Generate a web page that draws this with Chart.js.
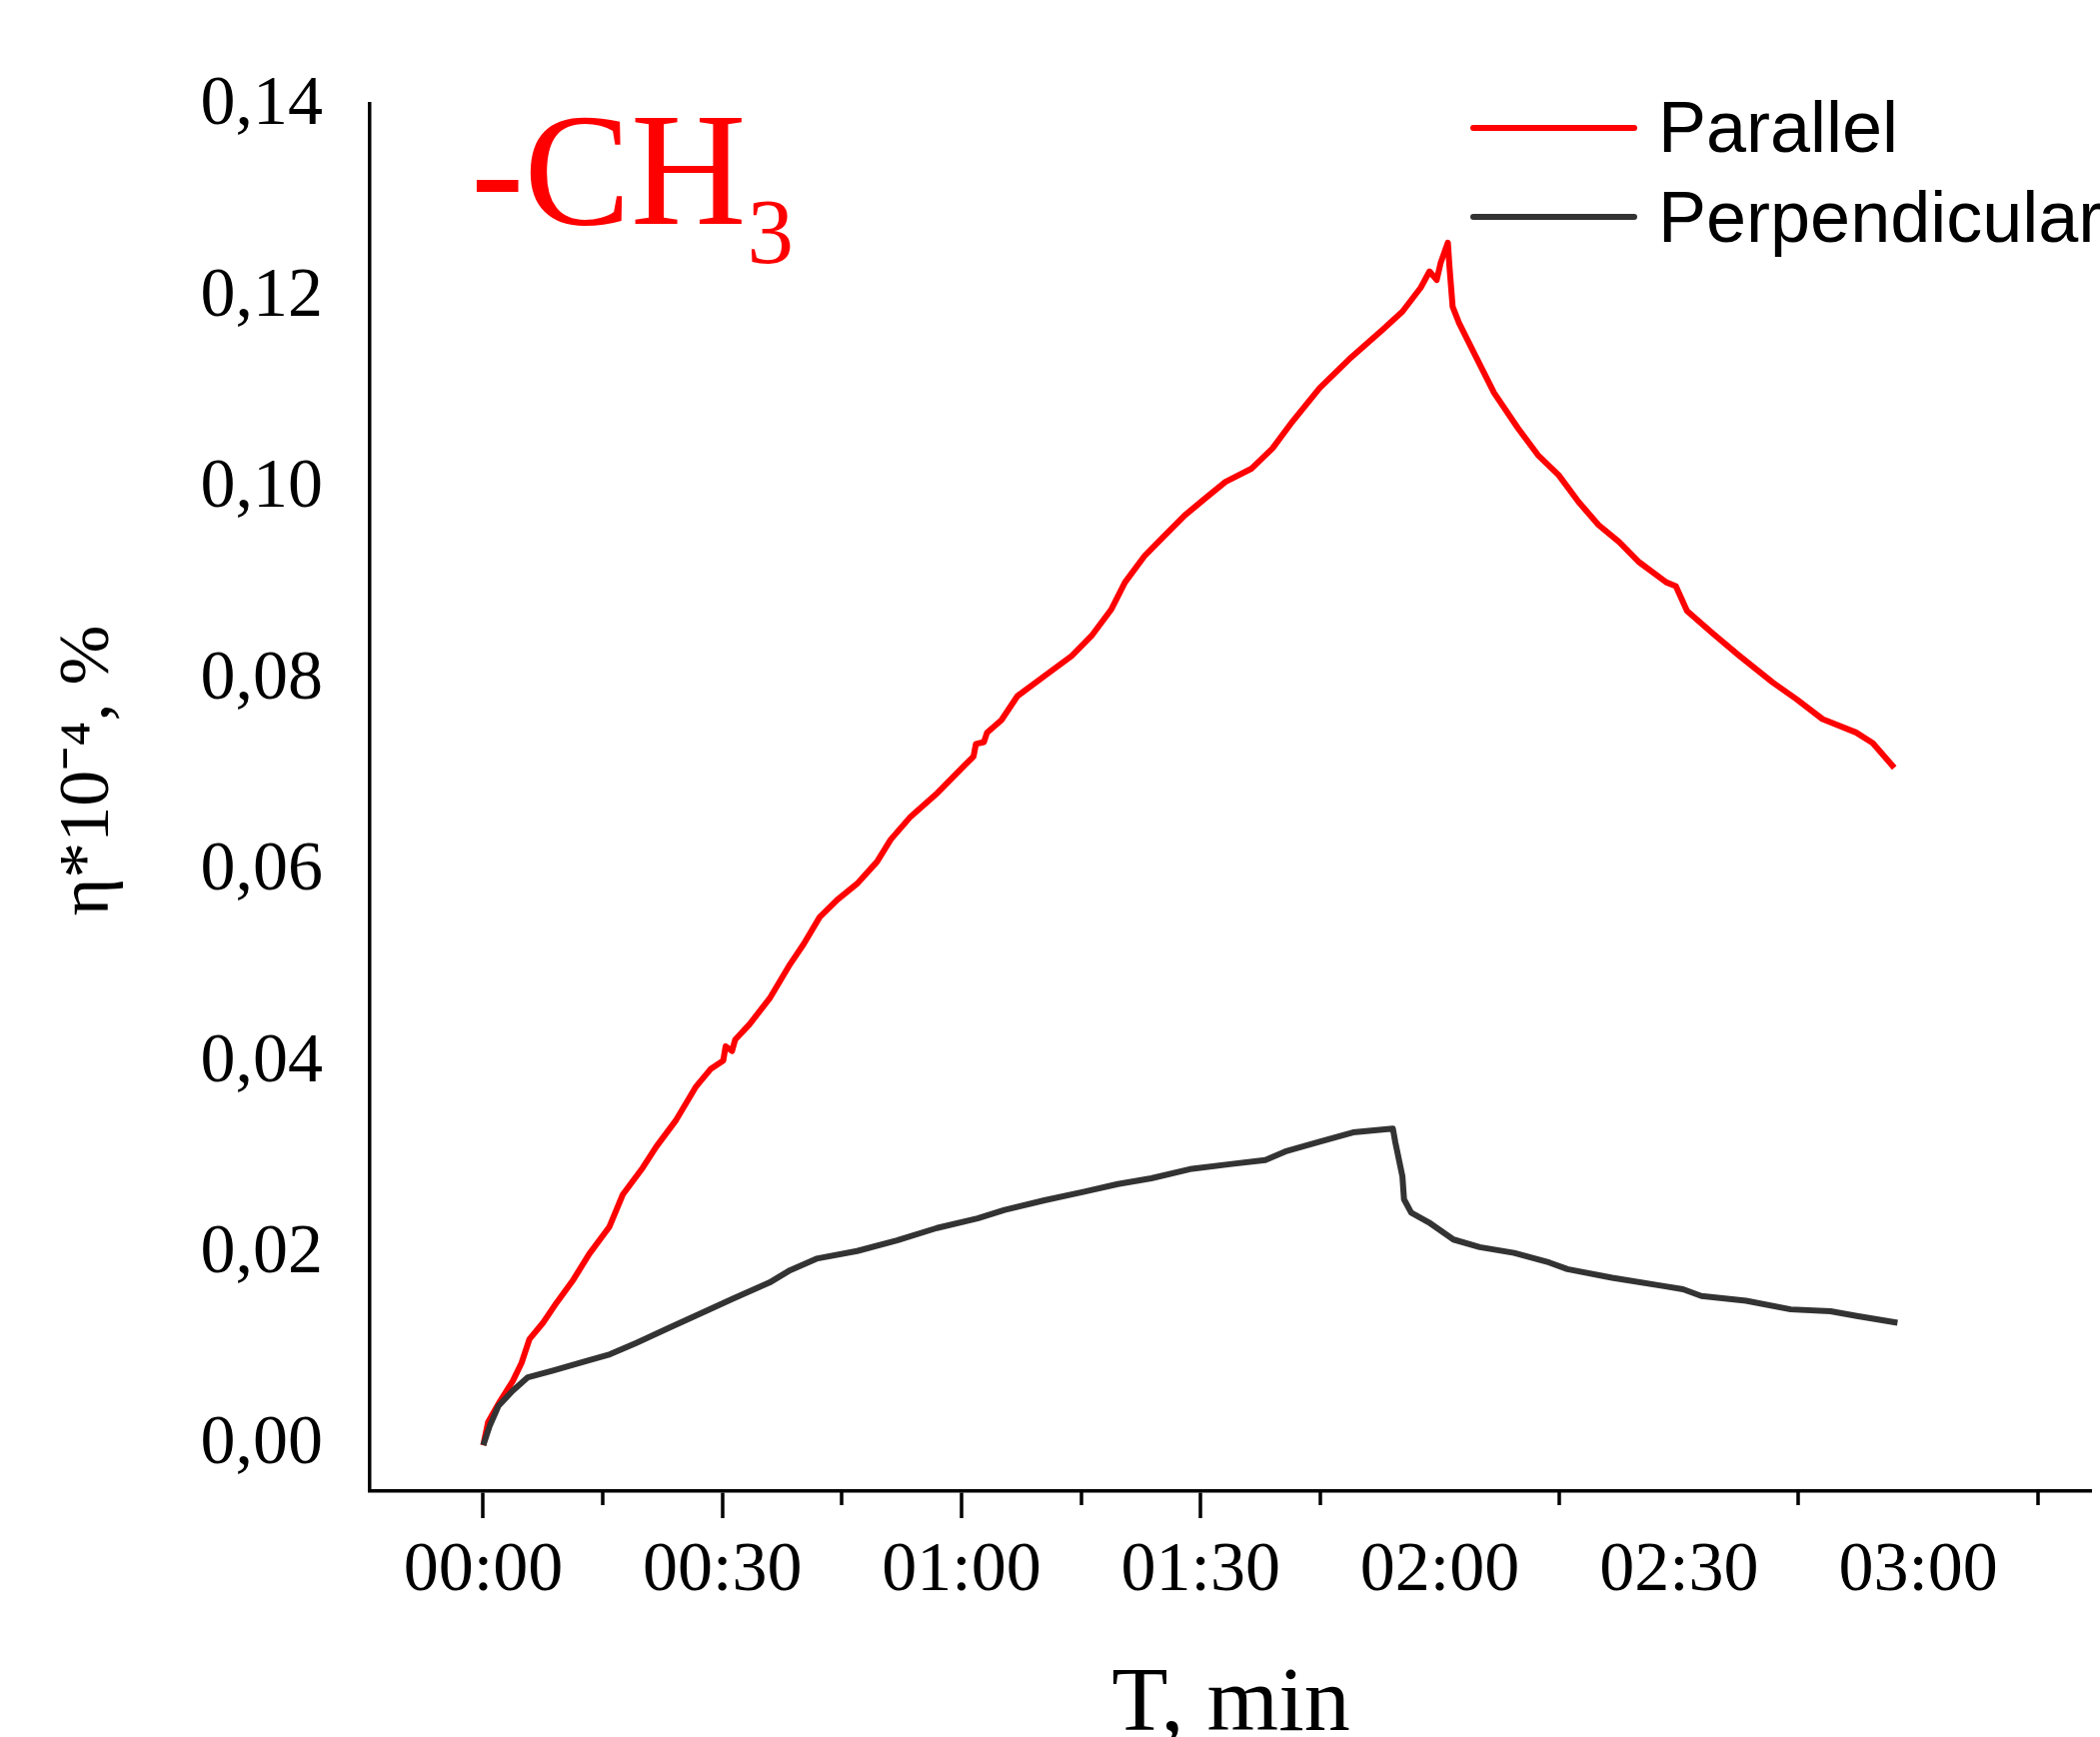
<!DOCTYPE html>
<html>
<head>
<meta charset="utf-8">
<script src="https://cdn.jsdelivr.net/npm/chart.js@4/dist/chart.umd.min.js"></script>
<style>
html,body{margin:0;padding:0;background:#ffffff;overflow:hidden}
canvas{display:block}
</style>
</head>
<body>
<canvas id="c" width="2101" height="1738"></canvas>
<script>
// ---- data (x in minutes, y in η*10^-4 %) ----
const parallelT = [0, 0.6, 2.1, 3.7, 4.8, 5.8, 7.5, 9.2, 11.3, 13.3, 15.8, 17.5, 20.0, 21.7, 24.2, 26.7, 28.5, 30.1, 30.4, 31.2, 31.6, 33.4, 36.0, 38.5, 40.2, 42.2, 44.4, 46.9, 49.4, 51.1, 53.6, 57.0, 60.3, 61.5, 61.8, 62.8, 63.2, 65.0, 67.0, 70.4, 73.8, 76.3, 78.8, 80.5, 83.0, 85.5, 88.0, 90.6, 93.1, 96.4, 99.0, 101.5, 104.9, 108.6, 112.8, 115.3, 117.6, 118.7, 119.6, 120.1, 121.0, 121.2, 121.6, 122.4, 124.5, 126.8, 129.8, 132.3, 134.9, 137.4, 139.9, 142.5, 145.0, 148.4, 149.6, 151.0, 154.3, 157.6, 161.8, 164.7, 168.0, 172.2, 174.3, 177.0];
const parallelEta = [0, 0.0024, 0.0046, 0.0067, 0.0086, 0.0111, 0.0128, 0.0149, 0.0173, 0.0200, 0.0228, 0.0262, 0.0290, 0.0312, 0.0340, 0.0375, 0.0393, 0.0402, 0.0417, 0.0412, 0.0424, 0.0440, 0.0468, 0.0503, 0.0524, 0.0552, 0.0570, 0.0587, 0.0610, 0.0633, 0.0657, 0.0682, 0.0710, 0.0720, 0.0733, 0.0735, 0.0745, 0.0758, 0.0783, 0.0804, 0.0825, 0.0846, 0.0874, 0.0902, 0.0930, 0.0951, 0.0972, 0.0990, 0.1007, 0.1021, 0.1042, 0.1070, 0.1105, 0.1135, 0.1166, 0.1185, 0.1210, 0.1227, 0.1218, 0.1236, 0.1257, 0.1232, 0.1190, 0.1173, 0.1138, 0.1100, 0.1063, 0.1035, 0.1014, 0.0986, 0.0962, 0.0944, 0.0923, 0.0902, 0.0898, 0.0872, 0.0848, 0.0825, 0.0797, 0.0780, 0.0759, 0.0745, 0.0734, 0.0708];

const perpT = [0, 0.8, 1.9, 3.7, 5.6, 8.75, 12.9, 15.9, 19.2, 23.4, 27.6, 31.3, 35.9, 38.5, 41.8, 46.9, 51.9, 56.9, 62.0, 65.4, 70.4, 75.4, 79.6, 83.8, 88.9, 93.9, 98.1, 100.6, 104.8, 109.1, 114.1, 114.4, 115.3, 115.5, 116.4, 118.6, 121.7, 125.0, 129.3, 133.7, 136.0, 141.6, 148.3, 150.5, 152.8, 158.4, 164.0, 169.0, 172.3, 177.4];
const perpEta = [0, 0.0020, 0.0041, 0.0057, 0.0071, 0.0078, 0.0088, 0.0095, 0.0107, 0.0123, 0.0139, 0.0153, 0.0170, 0.0183, 0.0195, 0.0203, 0.0214, 0.0227, 0.0237, 0.0246, 0.0256, 0.0265, 0.0273, 0.0279, 0.0289, 0.0294, 0.0298, 0.0307, 0.0317, 0.0327, 0.0331, 0.0317, 0.0281, 0.0257, 0.0243, 0.0233, 0.0215, 0.0207, 0.0201, 0.0191, 0.0184, 0.0175, 0.0166, 0.0163, 0.0156, 0.0151, 0.0142, 0.0140, 0.0135, 0.0128];

const seriesNames = ['Parallel', 'Perpendicular'];
const seriesColors = ['#ff0000', '#333333'];

const xMajorTicks = [0, 30, 60, 90, 120, 150, 180];
const xTickLabels = ['00:00', '00:30', '01:00', '01:30', '02:00', '02:30', '03:00'];
const xLongTickMax = 90;
const xMinorTicks = [15, 45, 75, 105, 135, 165, 195];
const yTicks = [0, 0.02, 0.04, 0.06, 0.08, 0.10, 0.12, 0.14];
const yTickLabels = ['0,00', '0,02', '0,04', '0,06', '0,08', '0,10', '0,12', '0,14'];

const titleMain = '-CH';
const titleSub = '3';
const xTitle = 'T, min';
const yTitle = '   η*10⁻⁴, %';

// ---- build ----
const toPoints = (xs, ys) => xs.map((x, i) => ({x: x, y: ys[i]}));

const overlayText = {
  id: 'overlayText',
  afterDraw(chart) {
    const ctx = chart.ctx;
    ctx.save();
    ctx.textAlign = 'left';
    ctx.textBaseline = 'alphabetic';
    // "-CH3" label
    ctx.fillStyle = '#ff0000';
    ctx.font = '160px "Liberation Serif"';
    ctx.fillText(titleMain, 471, 224);
    const w = ctx.measureText(titleMain).width;
    ctx.font = '93px "Liberation Serif"';
    ctx.fillText(titleSub, 471 + w + 1, 263);
    // legend
    const ds = chart.data.datasets;
    const rows = [128, 217];
    const bases = [152, 242];
    ctx.font = '72px "Liberation Sans"';
    ds.forEach((d, i) => {
      ctx.strokeStyle = d.borderColor;
      ctx.lineWidth = 6;
      ctx.lineCap = 'round';
      ctx.beginPath();
      ctx.moveTo(1474, rows[i]);
      ctx.lineTo(1635, rows[i]);
      ctx.stroke();
      ctx.fillStyle = '#000000';
      ctx.fillText(d.label, 1659, bases[i]);
    });
    ctx.restore();
  }
};

new Chart(document.getElementById('c'), {
  type: 'line',
  data: {
    datasets: [
      {label: seriesNames[0], data: toPoints(parallelT, parallelEta), borderColor: seriesColors[0], borderWidth: 6, pointRadius: 0, tension: 0, borderJoinStyle: 'round', order: 1, xAxisID: 'x', yAxisID: 'y'},
      {label: seriesNames[1], data: toPoints(perpT, perpEta), borderColor: seriesColors[1], borderWidth: 6, pointRadius: 0, tension: 0, borderJoinStyle: 'round', order: 0, xAxisID: 'x', yAxisID: 'y'}
    ]
  },
  options: {
    responsive: false,
    animation: false,
    devicePixelRatio: 1,
    layout: {padding: {top: 104, right: 8, left: 0, bottom: 0}},
    plugins: {legend: {display: false}, title: {display: false}, tooltip: {enabled: false}},
    scales: {
      x2: {
        type: 'linear', position: 'bottom', weight: 0,
        min: -14.23, max: 201.8,
        afterBuildTicks: s => { s.ticks = xMinorTicks.map(v => ({value: v})); },
        afterFit: s => { s.height = 0; },
        ticks: {display: false},
        border: {display: false},
        grid: {display: true, drawOnChartArea: false, drawTicks: true, tickLength: 14, tickWidth: 3.5, tickColor: '#000000', lineWidth: 0}
      },
      x: {
        type: 'linear', position: 'bottom', weight: 1,
        min: -14.23, max: 201.8,
        afterBuildTicks: s => { s.ticks = xMajorTicks.map(v => ({value: v})); },
        afterFit: s => { s.height = 246; },
        ticks: {
          autoSkip: false, maxRotation: 0, minRotation: 0, padding: 19, color: '#000000',
          font: {family: '"Liberation Serif"', size: 70, lineHeight: 1},
          callback: (v, i) => xTickLabels[i]
        },
        border: {display: true, color: '#000000', width: 3.5},
        grid: {
          display: true, drawOnChartArea: false, drawTicks: true, tickLength: 27, tickWidth: 3.5, lineWidth: 0,
          tickColor: c => (c.tick && c.tick.value <= xLongTickMax) ? '#000000' : 'rgba(0,0,0,0)'
        },
        title: {display: true, text: xTitle, color: '#000000', font: {family: '"Liberation Serif"', size: 92, lineHeight: 0.6}, padding: {top: 0, bottom: 4}}
      },
      y: {
        type: 'linear', position: 'left',
        min: -0.0048, max: 0.1402,
        afterBuildTicks: s => { s.ticks = yTicks.map(v => ({value: v})); },
        afterFit: s => { s.width = 370; },
        ticks: {
          padding: 47, color: '#000000',
          font: {family: '"Liberation Serif"', size: 70, lineHeight: 1},
          callback: (v, i) => yTickLabels[i]
        },
        border: {display: true, color: '#000000', width: 3.5},
        grid: {display: true, drawOnChartArea: false, drawTicks: false, lineWidth: 0},
        title: {display: true, text: yTitle, color: '#000000', font: {family: '"Liberation Serif"', size: 72, lineHeight: 0.6}, padding: {top: 67, bottom: 0}}
      }
    }
  },
  plugins: [overlayText]
});
</script>
</body>
</html>
